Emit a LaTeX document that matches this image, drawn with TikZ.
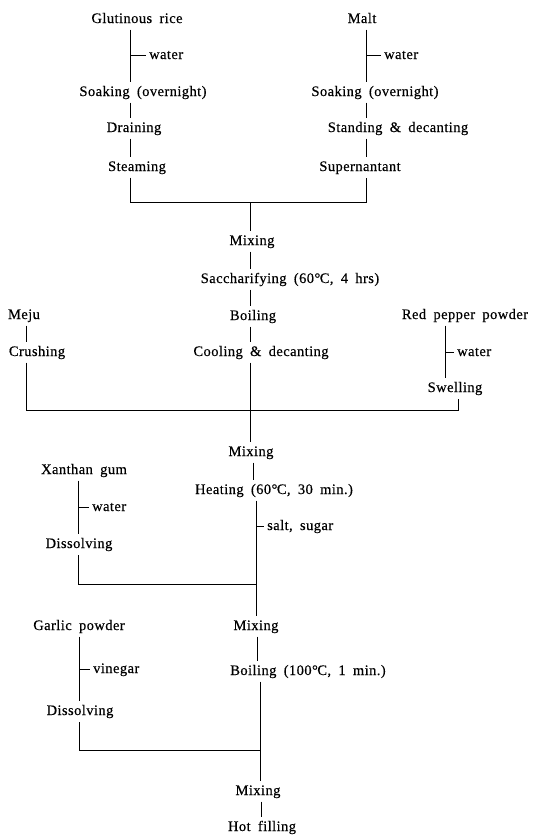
\documentclass[tikz,border=0pt]{standalone}
\usepackage{fontspec}
\setmainfont{Liberation Serif}[LetterSpace=3,WordSpace=1.8,FakeBold=0.4]
\begin{document}
\begin{tikzpicture}[x=1pt,y=-1pt,
  txt/.style={anchor=base,inner xsep=0pt,inner ysep=3.5pt,text height=10pt,text depth=3pt,font=\fontsize{14.5}{17}\selectfont},
  side/.style={txt,anchor=base west,inner xsep=3pt},
  ln/.style={draw=black,line width=0.9pt}]
\fill[white] (0,0) rectangle (533,836);
\useasboundingbox (0,0) rectangle (533,836);

% ---------- top left branch
\node[txt] (gr) at (137,23) {Glutinous rice};
\node[side] (wL) at (146,59) {water};
\node[txt] (soakL) at (143,96) {Soaking (overnight)};
\node[txt] (drain) at (134,132) {Draining};
\node[txt] (steam) at (137,171) {Steaming};
\coordinate (jL) at (130,202);

% ---------- top right branch
\node[txt] (malt) at (362,23) {Malt};
\node[side] (wR) at (381,59) {water};
\node[txt] (soakR) at (375,96) {Soaking (overnight)};
\node[txt] (stand) at (398,132) {Standing \& decanting};
\node[txt] (supn) at (360,171) {Supernantant};
\coordinate (jR) at (366,202);
\coordinate (jC) at (250,202);

% ---------- centre chain 1
\node[txt] (mix1) at (252,245) {Mixing};
\node[txt] (sacc) at (290,283) {Saccharifying (60°\kern-0.5pt C, 4 hrs)};
\node[txt] (boil1) at (253,320) {Boiling};
\node[txt] (cool) at (261,356) {Cooling \& decanting};

% ---------- side branches level 2
\node[txt] (meju) at (24,319) {Meju};
\node[txt] (crush) at (37,356) {Crushing};
\node[txt] (red) at (465,319) {Red pepper powder};
\node[side] (wRP) at (454,356) {water};
\node[txt] (swell) at (455,392) {Swelling};
\coordinate (jM) at (26,410);
\coordinate (jS) at (458,410);
\coordinate (jC2) at (250,410);

% ---------- centre chain 2
\node[txt] (mix2) at (251,456) {Mixing};
\node[txt] (heat) at (274,494) {Heating (60°\kern-0.5pt C, 30 min.)};
\node[side] (salt) at (264,530) {salt, sugar};
\coordinate (jD) at (256,584);

\node[txt] (xan) at (84,474) {Xanthan gum};
\node[side] (wX) at (89,511) {water};
\node[txt] (diss1) at (79,548) {Dissolving};
\coordinate (jX) at (78,584);

% ---------- centre chain 3
\node[txt] (mix3) at (256,630) {Mixing};
\node[txt] (boil2) at (308,675) {Boiling (100°\kern-0.5pt C, 1 min.)};
\coordinate (jE) at (260,750);

\node[txt] (garl) at (79,630) {Garlic powder};
\node[side] (vin) at (90,673) {vinegar};
\node[txt] (diss2) at (80,715) {Dissolving};
\coordinate (jG) at (79,750);

\node[txt] (mix4) at (258,795) {Mixing};
\node[txt] (hot) at (262,831) {Hot filling};

% ---------- connectors: top
\draw[ln] (gr.south -| jL) -- (soakL.north -| jL);
\draw[ln] (wL.west -| jL) -- (wL.west);
\draw[ln] (soakL.south -| jL) -- (drain.north -| jL);
\draw[ln] (drain.south -| jL) -- (steam.north -| jL);
\draw[ln] (steam.south -| jL) -- (jL) -- (jR) -- (supn.south -| jR);
\draw[ln] (malt.south -| jR) -- (soakR.north -| jR);
\draw[ln] (wR.west -| jR) -- (wR.west);
\draw[ln] (soakR.south -| jR) -- (stand.north -| jR);
\draw[ln] (stand.south -| jR) -- (supn.north -| jR);
\draw[ln] (jC) -- (mix1.north -| jC);
\draw[ln] (mix1.south -| jC) -- (sacc.north -| jC);
\draw[ln] (sacc.south -| jC) -- (boil1.north -| jC);
\draw[ln] (boil1.south -| jC) -- (cool.north -| jC);
\draw[ln] (cool.south -| jC) -- (jC2);

% ---------- connectors: level 2
\draw[ln] (meju.south -| jM) -- (crush.north -| jM);
\draw[ln] (crush.south -| jM) -- (jM) -- (jS) -- (swell.south -| jS);
\coordinate (xRP) at (445,0);
\draw[ln] (red.south -| xRP) -- (swell.north -| xRP);
\draw[ln] (wRP.west -| xRP) -- (wRP.west);
\draw[ln] (jC2) -- (mix2.north -| jC2);
\coordinate (xH) at (253,0);
\draw[ln] (mix2.south -| xH) -- (heat.north -| xH);
\draw[ln] (heat.south -| jD) -- (jD) -- (jX) -- (diss1.south -| jX);
\draw[ln] (salt.west -| jD) -- (salt.west);
\draw[ln] (xan.south -| jX) -- (diss1.north -| jX);
\draw[ln] (wX.west -| jX) -- (wX.west);

% ---------- connectors: level 3
\draw[ln] (jD) -- (mix3.north -| jD);
\coordinate (xB) at (257,0);
\draw[ln] (mix3.south -| xB) -- (boil2.north -| xB);
\draw[ln] (boil2.south -| jE) -- (jE) -- (jG) -- (diss2.south -| jG);
\draw[ln] (garl.south -| jG) -- (diss2.north -| jG);
\draw[ln] (vin.west -| jG) -- (vin.west);
\draw[ln] (jE) -- (mix4.north -| jE);
\coordinate (xF) at (261,0);
\draw[ln] (mix4.south -| xF) -- (hot.north -| xF);
\end{tikzpicture}
\end{document}
